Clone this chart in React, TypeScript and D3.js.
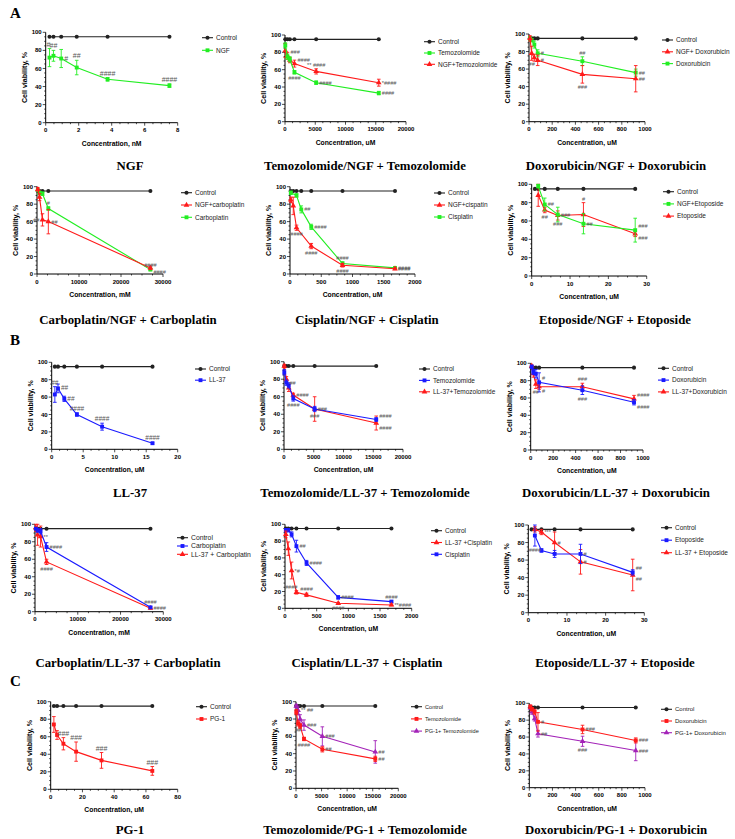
import * as React from "react";
import * as d3 from "d3";

const GREEN = "#22ee22";
const RED = "#ff1a1a";
const BLUE = "#1a1aff";
const PURPLE = "#a323b8";
const CTRL = "#222";

// ---------- A: NGF ----------
const ngfConc = [0.23, 0.47, 0.94, 1.88, 3.75, 7.5];
const ngfControl = [95, 95, 95, 95, 95, 95];
const ngfViab = [72, 74, 71, 61, 48, 41];
const ngfErr = [10, 6, 10, 8, 2, 2];
const ngfMarks = ["#", "##", "#", "##", "####", "####"];

const temoConc = [50, 400, 800, 1560, 5150, 15500];
const temoControl = [95, 95, 95, 95, 95, 95];
const a2Temo = [88, 75, 72, 57, 45, 33];
const a2TemoErr = [3, 3, 3, 2, 2, 2];
const a2TemoMarks = ["", "", "", "####", "####", "####"];
const a2Combo = [82, 76, 71, 67, 58, 45];
const a2ComboErr = [8, 4, 3, 4, 3, 4];
const a2ComboMarks = ["", "###", "", "####", "** ####", "*####"];

const doxConc = [9, 23, 46, 75, 460, 920];
const doxControl = [95, 95, 95, 95, 95, 95];
const a3Dox = [95, 93, 88, 78, 69, 56];
const a3DoxErr = [2, 2, 4, 4, 5, 4];
const a3DoxMarks = ["", "", "", "#", "##", "##"];
const a3Combo = [95, 78, 73, 70, 54, 49];
const a3ComboErr = [3, 8, 4, 6, 10, 15];
const a3ComboMarks = ["", "##", "", "#", "###", "##"];

const carboConc = [200, 600, 1300, 2700, 27000];
const carboControl = [95, 95, 95, 95, 95];
const a4Combo = [97, 88, 62, 60, 7];
const a4ComboErr = [2, 4, 7, 14, 2];
const a4ComboMarks = ["", "", "##", "##", "####"];
const a4Carbo = [96, 93, 92, 75, 5];
const a4CarboErr = [1, 2, 2, 2, 1];
const a4CarboMarks = ["", "", "", "#", "####"];

const cisConc = [13, 52, 104, 180, 340, 840, 1680];
const cisControl = [95, 95, 95, 95, 95, 95, 95];
const a5CisConc = [13, 104, 180, 340, 840, 1680];
const a5Cis = [93, 90, 74, 54, 12, 7];
const a5CisErr = [2, 2, 4, 3, 2, 1];
const a5CisMarks = ["", "", "##", "####", "####", "####"];
const a5ComboConc = [13, 52, 104, 340, 840, 1680];
const a5Combo = [85, 78, 53, 32, 10, 6];
const a5ComboErr = [3, 10, 3, 3, 2, 1];
const a5ComboMarks = ["", "", "####", "####", "####", "####"];

const etoControlConc = [0.84, 1.7, 3.4, 6.8, 13.5, 27];
const etoControl = [95, 95, 95, 95, 95, 95];
const etoConc = [1.7, 3.4, 6.8, 13.5, 27];
const a6Combo = [98, 78, 67, 57, 50];
const a6ComboErr = [2, 7, 8, 11, 13];
const a6ComboMarks = ["", "##", "###", "##", "###"];
const a6Eto = [88, 72, 66, 67, 46];
const a6EtoErr = [12, 3, 5, 13, 3];
const a6EtoMarks = ["", "##", "###", "#", "###"];

// ---------- B: LL-37 ----------
const ll37Conc = [0.5, 1, 2, 4, 8, 16];
const ll37Control = [95, 95, 95, 95, 95, 95];
const b1Ll37 = [63, 70, 58, 40, 26, 7];
const b1Ll37Err = [9, 5, 3, 2, 4, 1];
const b1Ll37Marks = ["##", "##", "##", "####", "####", "####"];

const b2Temo = [88, 76, 73, 58, 46, 34];
const b2TemoErr = [3, 3, 3, 3, 3, 2];
const b2TemoMarks = ["", "##", "", "####", "###", "####"];
const b2Combo = [95, 80, 70, 62, 46, 30];
const b2ComboErr = [2, 3, 4, 2, 14, 8];
const b2ComboMarks = ["", "", "", "####", "###", "####"];

const b3Dox = [96, 90, 88, 78, 69, 55];
const b3DoxErr = [2, 3, 5, 11, 5, 3];
const b3DoxMarks = ["", "", "", "#", "###", "####"];
const b3Combo = [97, 88, 76, 73, 73, 59];
const b3ComboErr = [1, 4, 5, 3, 4, 4];
const b3ComboMarks = ["", "", "##", "#", "###", "####"];

const b4Carbo = [95, 93, 92, 74, 5];
const b4CarboErr = [1, 2, 3, 5, 1];
const b4CarboMarks = ["", "", "", "####", "####"];
const b4Combo = [96, 88, 86, 57, 4];
const b4ComboErr = [4, 12, 12, 3, 1];
const b4ComboMarks = ["", "", "**", "####", "####"];

const b5Cis = [93, 93, 88, 74, 54, 13, 8];
const b5CisErr = [2, 2, 3, 7, 3, 2, 1];
const b5CisMarks = ["", "", "", "##", "####", "####", "####"];
const b5Combo = [88, 71, 45, 19, 16, 6, 4];
const b5ComboErr = [4, 8, 10, 2, 2, 1, 1];
const b5ComboMarks = ["", "", "*#", "####", "####", "####", "**####"];

const b6Eto = [88, 71, 67, 67, 46];
const b6EtoErr = [12, 2, 4, 11, 3];
const b6EtoMarks = ["####", "", "", "#", "##"];
const b6Combo = [95, 92, 80, 58, 43];
const b6ComboErr = [3, 3, 12, 14, 18];
const b6ComboMarks = ["", "***", "#", "#", "##"];

// ---------- C: PG-1 ----------
const pg1Conc = [2, 4, 8, 16, 32, 64];
const pg1Control = [95, 95, 95, 95, 95, 95];
const c1Pg1 = [74, 62, 52, 43, 33, 21];
const c1Pg1Err = [9, 5, 7, 11, 9, 5];
const c1Pg1Marks = ["", "", "###", "###", "###", "###"];

const c2Temo = [88, 75, 72, 57, 45, 34];
const c2TemoErr = [3, 3, 3, 2, 3, 3];
const c2TemoMarks = ["", "##", "", "####", "##", "##"];
const c2Combo = [95, 90, 80, 73, 60, 42];
const c2ComboErr = [2, 5, 5, 6, 11, 13];
const c2ComboMarks = ["", "** ##", "", "###", "###", "##"];

const c3Dox = [96, 93, 90, 78, 69, 56];
const c3DoxErr = [2, 2, 3, 11, 5, 3];
const c3DoxMarks = ["", "", "", "#", "###", "###"];
const c3Combo = [95, 90, 82, 64, 55, 44];
const c3ComboErr = [2, 3, 3, 4, 6, 12];
const c3ComboMarks = ["", "", "", "##", "###", "###"];

type Shape = "circle" | "square" | "triangle";
interface Series {
  name: string; color: string; shape: Shape;
  x: number[]; y: number[]; err: number[]; marks: string[]; sides: string;
}
interface Panel {
  title: string; tx: number; ty: number;
  left: number; right: number; top: number; bottom: number;
  xMax: number; xStep: number; unit: string;
  cx: number[]; cy: number[];
  series: Series[];
  lx: number; ly: number; lgap: number; lsize?: number; msize?: number;
}

const S = (name: string, color: string, shape: Shape, x: number[], y: number[], err: number[], marks: string[], sides: string): Series =>
  ({ name, color, shape, x, y, err, marks, sides });

// sides: r = right, R = right-above, D = right-below, u = above bar, U = above bar to the left, d = below bar, l = left
const panels: Panel[] = [
  { title: "NGF", tx: 130, ty: 170, left: 45.7, right: 177.7, top: 32.3, bottom: 122.7, xMax: 8, xStep: 2, unit: "nM",
    cx: ngfConc, cy: ngfControl, lx: 216, ly: 37.7, lgap: 12.6, msize: 7,
    series: [S("NGF", GREEN, "square", ngfConc, ngfViab, ngfErr, ngfMarks, "Uuruuu")] },
  { title: "Temozolomide/NGF + Temozolomide", tx: 365, ty: 170, left: 285, right: 406, top: 35, bottom: 121.7, xMax: 20000, xStep: 5000, unit: "uM",
    cx: temoConc, cy: temoControl, lx: 438, ly: 41.7, lgap: 11.3,
    series: [S("Temozolomide", GREEN, "square", temoConc, a2Temo, a2TemoErr, a2TemoMarks, "rrrdrr"),
      S("NGF+Temozolomide", RED, "triangle", temoConc, a2Combo, a2ComboErr, a2ComboMarks, "rRrRur")] },
  { title: "Doxorubicin/NGF + Doxorubicin", tx: 616, ty: 170, left: 529, right: 645, top: 34, bottom: 121.7, xMax: 1000, xStep: 200, unit: "uM",
    cx: doxConc, cy: doxControl, lx: 676, ly: 40, lgap: 11.8,
    series: [S("NGF+ Doxorubicin", RED, "triangle", doxConc, a3Combo, a3ComboErr, a3ComboMarks, "rdrrdr"),
      S("Doxorubicin", GREEN, "square", doxConc, a3Dox, a3DoxErr, a3DoxMarks, "rrrrur")] },
  { title: "Carboplatin/NGF + Carboplatin", tx: 128, ty: 324, left: 37, right: 163, top: 186.7, bottom: 274, xMax: 30000, xStep: 10000, unit: "mM",
    cx: carboConc, cy: carboControl, lx: 195, ly: 192.7, lgap: 12.3,
    series: [S("NGF+carboplatin", RED, "triangle", carboConc, a4Combo, a4ComboErr, a4ComboMarks, "rrlrD"),
      S("Carboplatin", GREEN, "square", carboConc, a4Carbo, a4CarboErr, a4CarboMarks, "rrruu")] },
  { title: "Cisplatin/NGF + Cisplatin", tx: 367, ty: 324, left: 290, right: 415, top: 186.7, bottom: 274, xMax: 2000, xStep: 500, unit: "uM",
    cx: cisConc, cy: cisControl, lx: 448, ly: 193, lgap: 12,
    series: [S("NGF+cispatin", RED, "triangle", a5ComboConc, a5Combo, a5ComboErr, a5ComboMarks, "rrdddr"),
      S("Cisplatin", GREEN, "square", a5CisConc, a5Cis, a5CisErr, a5CisMarks, "rrrrur")] },
  { title: "Etoposide/NGF + Etoposide", tx: 615, ty: 324, left: 531.7, right: 646.7, top: 184.3, bottom: 276, xMax: 30, xStep: 10, unit: "uM",
    cx: etoControlConc, cy: etoControl, lx: 677, ly: 191.7, lgap: 12.2,
    series: [S("NGF+Etoposide", GREEN, "square", etoConc, a6Combo, a6ComboErr, a6ComboMarks, "rrrrR"),
      S("Etoposide", RED, "triangle", etoConc, a6Eto, a6EtoErr, a6EtoMarks, "rdduD")] },

  { title: "LL-37", tx: 130, ty: 497, left: 51.7, right: 177.7, top: 362.3, bottom: 449.3, xMax: 20, xStep: 5, unit: "uM",
    cx: ll37Conc, cy: ll37Control, lx: 209, ly: 369, lgap: 11.2, msize: 6.5,
    series: [S("LL-37", BLUE, "square", ll37Conc, b1Ll37, b1Ll37Err, b1Ll37Marks, "urruuu")] },
  { title: "Temozolomide/LL-37 + Temozolomide", tx: 365, ty: 497, left: 284, right: 403, top: 361.7, bottom: 449.3, xMax: 20000, xStep: 5000, unit: "uM",
    cx: temoConc, cy: temoControl, lx: 433, ly: 369, lgap: 11.4,
    series: [S("Temozolomide", BLUE, "square", temoConc, b2Temo, b2TemoErr, b2TemoMarks, "rrrddR"),
      S("LL-37+Temozolomide", RED, "triangle", temoConc, b2Combo, b2ComboErr, b2ComboMarks, "rrrrrD")] },
  { title: "Doxorubicin/LL-37 + Doxorubicin", tx: 616, ty: 497, left: 530.7, right: 643, top: 363.3, bottom: 450, xMax: 1000, xStep: 200, unit: "uM",
    cx: doxConc, cy: doxControl, lx: 672, ly: 368.3, lgap: 11.8,
    series: [S("Doxorubicin", BLUE, "square", doxConc, b3Dox, b3DoxErr, b3DoxMarks, "rrrRdD"),
      S("LL-37+Doxorubicin", RED, "triangle", doxConc, b3Combo, b3ComboErr, b3ComboMarks, "rrdDuR")] },
  { title: "Carboplatin/LL-37 + Carboplatin", tx: 128, ty: 667, left: 35, right: 163.3, top: 524.3, bottom: 611.7, xMax: 30000, xStep: 10000, unit: "mM",
    cx: carboConc, cy: carboControl, lx: 191, ly: 537.7, lgap: 8.3, lsize: 6.8,
    series: [S("Carboplatin", BLUE, "square", carboConc, b4Carbo, b4CarboErr, b4CarboMarks, "rrrru"),
      S("LL-37 + Carboplatin", RED, "triangle", carboConc, b4Combo, b4ComboErr, b4ComboMarks, "rrrdr")] },
  { title: "Cisplatin/LL-37 + Cisplatin", tx: 367, ty: 667, left: 285, right: 411.7, top: 524.3, bottom: 608.3, xMax: 2000, xStep: 500, unit: "uM",
    cx: cisConc, cy: cisControl, lx: 445, ly: 530.7, lgap: 11.8,
    series: [S("LL-37 +Cisplatin", RED, "triangle", cisConc, b5Combo, b5ComboErr, b5ComboMarks, "rrrUudr"),
      S("Cisplatin", BLUE, "square", cisConc, b5Cis, b5CisErr, b5CisMarks, "rrrrrru")] },
  { title: "Etoposide/LL-37 + Etoposide", tx: 615, ty: 667, left: 528.3, right: 644.3, top: 525, bottom: 612.7, xMax: 30, xStep: 10, unit: "uM",
    cx: etoControlConc, cy: etoControl, lx: 675, ly: 527.7, lgap: 12.5,
    series: [S("Etoposide", BLUE, "square", etoConc, b6Eto, b6EtoErr, b6EtoMarks, "drrrR"),
      S("LL-37 + Etoposide", RED, "triangle", etoConc, b6Combo, b6ComboErr, b6ComboMarks, "rrrrD")] },

  { title: "PG-1", tx: 130, ty: 834, left: 50.7, right: 177.7, top: 701.7, bottom: 789.3, xMax: 80, xStep: 20, unit: "uM",
    cx: pg1Conc, cy: pg1Control, lx: 210, ly: 706.7, lgap: 12.3, msize: 7,
    series: [S("PG-1", RED, "square", pg1Conc, c1Pg1, c1Pg1Err, c1Pg1Marks, "rruuuu")] },
  { title: "Temozolomide/PG-1 + Temozolomide", tx: 365, ty: 834, left: 296, right: 398.3, top: 701.7, bottom: 788.3, xMax: 20000, xStep: 5000, unit: "uM",
    cx: temoConc, cy: temoControl, lx: 425, ly: 706.7, lgap: 12.2, lsize: 5.6,
    series: [S("Temozolomide", RED, "square", temoConc, c2Temo, c2TemoErr, c2TemoMarks, "rdrdrr"),
      S("PG-1+ Temozolomide", PURPLE, "triangle", temoConc, c2Combo, c2ComboErr, c2ComboMarks, "rrrrrr")] },
  { title: "Doxorubicin/PG-1 + Doxorubicin", tx: 616, ty: 834, left: 529.3, right: 645, top: 703.3, bottom: 787.7, xMax: 1000, xStep: 200, unit: "uM",
    cx: doxConc, cy: doxControl, lx: 675, ly: 709.3, lgap: 11.7, lsize: 6,
    series: [S("Doxorubicin", RED, "square", doxConc, c3Dox, c3DoxErr, c3DoxMarks, "rrrrrr"),
      S("PG-1+ Doxorubicin", PURPLE, "triangle", doxConc, c3Combo, c3ComboErr, c3ComboMarks, "rrrrdr")] },
];

const SANS = "'Liberation Sans', Arial, sans-serif";
const SERIF = "'Liberation Serif', 'Times New Roman', serif";

function Marker({ shape, color, x, y }: { shape: Shape; color: string; x: number; y: number }) {
  const type = shape === "circle" ? d3.symbolCircle : shape === "square" ? d3.symbolSquare : d3.symbolTriangle;
  const size = shape === "circle" ? 13 : shape === "square" ? 15 : 14;
  return <path d={d3.symbol().type(type).size(size)() as string} transform={`translate(${x},${y})`} fill={color} />;
}

function Chart({ p }: { p: Panel }) {
  const x = d3.scaleLinear().domain([0, p.xMax]).range([p.left, p.right]);
  const y = d3.scaleLinear().domain([0, 100]).range([p.bottom, p.top]);
  const xTicks = d3.range(0, p.xMax + p.xStep / 2, p.xStep);
  const xMinor = d3.range(0, p.xMax + p.xStep / 8, p.xStep / 4);
  const yTicks = d3.range(0, 101, 20);
  const yMinor = d3.range(0, 101, 5);
  const msize = p.msize ?? 5.6;
  const lsize = p.lsize ?? 6.5;
  const pathOf = (xs: number[], ys: number[]) =>
    d3.line<number>().x((_, i) => x(xs[i])).y((v) => y(v))(ys) as string;

  const legend = [{ name: "Control", color: CTRL, shape: "circle" as Shape }, ...p.series];

  return (
    <g>
      <line x1={p.left} x2={p.left} y1={p.top} y2={p.bottom} stroke="#000" strokeWidth={1} />
      <line x1={p.left} x2={p.right} y1={p.bottom} y2={p.bottom} stroke="#000" strokeWidth={1} />
      {yMinor.map((t) => (
        <line key={"ym" + t} x1={p.left - (t % 20 === 0 ? 3 : 1.5)} x2={p.left} y1={y(t)} y2={y(t)} stroke="#000" strokeWidth={0.7} />
      ))}
      {yTicks.map((t) => (
        <text key={"yt" + t} x={p.left - 4} y={y(t)} dy="0.35em" textAnchor="end" fontFamily={SANS} fontWeight="bold" fontSize={6}>{t}</text>
      ))}
      {xMinor.map((t, i) => (
        <line key={"xm" + i} x1={x(t)} x2={x(t)} y1={p.bottom} y2={p.bottom + (i % 4 === 0 ? 3 : 1.5)} stroke="#000" strokeWidth={0.7} />
      ))}
      {xTicks.map((t) => (
        <text key={"xt" + t} x={x(t)} y={p.bottom + 9.5} textAnchor="middle" fontFamily={SANS} fontWeight="bold" fontSize={6}>{t}</text>
      ))}
      <text x={(p.left + p.right) / 2} y={p.bottom + 23} textAnchor="middle" fontFamily={SANS} fontWeight="bold" fontSize={6.8}>
        {`Concentration, ${p.unit}`}
      </text>
      <text transform={`translate(${p.left - 19},${(p.top + p.bottom) / 2}) rotate(-90)`} textAnchor="middle" fontFamily={SANS} fontWeight="bold" fontSize={7.1}>
        Cell viability, %
      </text>

      <path d={pathOf(p.cx, p.cy)} fill="none" stroke={CTRL} strokeWidth={1.1} />
      {p.cx.map((c, i) => <Marker key={"c" + i} shape="circle" color={CTRL} x={x(c)} y={y(p.cy[i])} />)}

      {[...p.series].reverse().map((s, si) => (
        <g key={"s" + si}>
          <path d={pathOf(s.x, s.y)} fill="none" stroke={s.color} strokeWidth={1.1} />
          {s.x.map((c, i) => {
            const px = x(c);
            const hi = y(Math.min(s.y[i] + s.err[i], 100));
            const lo = y(s.y[i] - s.err[i]);
            return (
              <g key={"e" + i} stroke={s.color} strokeWidth={0.9}>
                <line x1={px} x2={px} y1={hi} y2={lo} />
                <line x1={px - 1.8} x2={px + 1.8} y1={hi} y2={hi} />
                <line x1={px - 1.8} x2={px + 1.8} y1={lo} y2={lo} />
              </g>
            );
          })}
          {s.x.map((c, i) => <Marker key={"m" + i} shape={s.shape} color={s.color} x={x(c)} y={y(s.y[i])} />)}
        </g>
      ))}

      {p.series.map((s, si) =>
        s.marks.map((m, i) => {
          if (!m) return null;
          const px = x(s.x[i]);
          const py = y(s.y[i]);
          const side = s.sides[i];
          const barTop = y(Math.min(s.y[i] + s.err[i], 100)) - 2;
          let tx = px + 3, ty = py + 2, anchor = "start";
          if (side === "u") { tx = px; ty = barTop; anchor = "middle"; }
          else if (side === "U") { tx = px + 1; ty = barTop; anchor = "end"; }
          else if (side === "d") { tx = px; ty = y(s.y[i] - s.err[i]) + 6; anchor = "middle"; }
          else if (side === "l") { tx = px - 3; anchor = "end"; }
          else if (side === "R") { ty = py - 2; }
          else if (side === "D") { ty = py + 6.5; }
          return (
            <text key={`k${si}-${i}`} x={tx} y={ty} textAnchor={anchor} fontFamily={SANS} fontSize={msize} fill="#555">{m}</text>
          );
        })
      )}

      {legend.map((l, i) => {
        const ly = p.ly + i * p.lgap;
        return (
          <g key={"l" + i}>
            <line x1={p.lx - 14} x2={p.lx - 3} y1={ly} y2={ly} stroke={l.color} strokeWidth={1.1} />
            <Marker shape={l.shape} color={l.color} x={p.lx - 8.5} y={ly} />
            <text x={p.lx} y={ly} dy="0.35em" fontFamily={SANS} fontSize={lsize} fill="#222">{l.name}</text>
          </g>
        );
      })}

      <text x={p.tx} y={p.ty} textAnchor="middle" fontFamily={SERIF} fontWeight="bold" fontSize={12.8}>{p.title}</text>
    </g>
  );
}

export default function App() {
  return (
    <svg width={735} height={839} viewBox="0 0 735 839" style={{ position: "absolute", left: 0, top: 0, background: "#fff" }}>
      <rect width={735} height={839} fill="#fff" />
      <text x={10} y={18} fontFamily={SERIF} fontWeight="bold" fontSize={15}>A</text>
      <text x={10} y={345} fontFamily={SERIF} fontWeight="bold" fontSize={15}>B</text>
      <text x={10} y={686} fontFamily={SERIF} fontWeight="bold" fontSize={15}>C</text>
      {panels.map((p, i) => <Chart key={i} p={p} />)}
    </svg>
  );
}
